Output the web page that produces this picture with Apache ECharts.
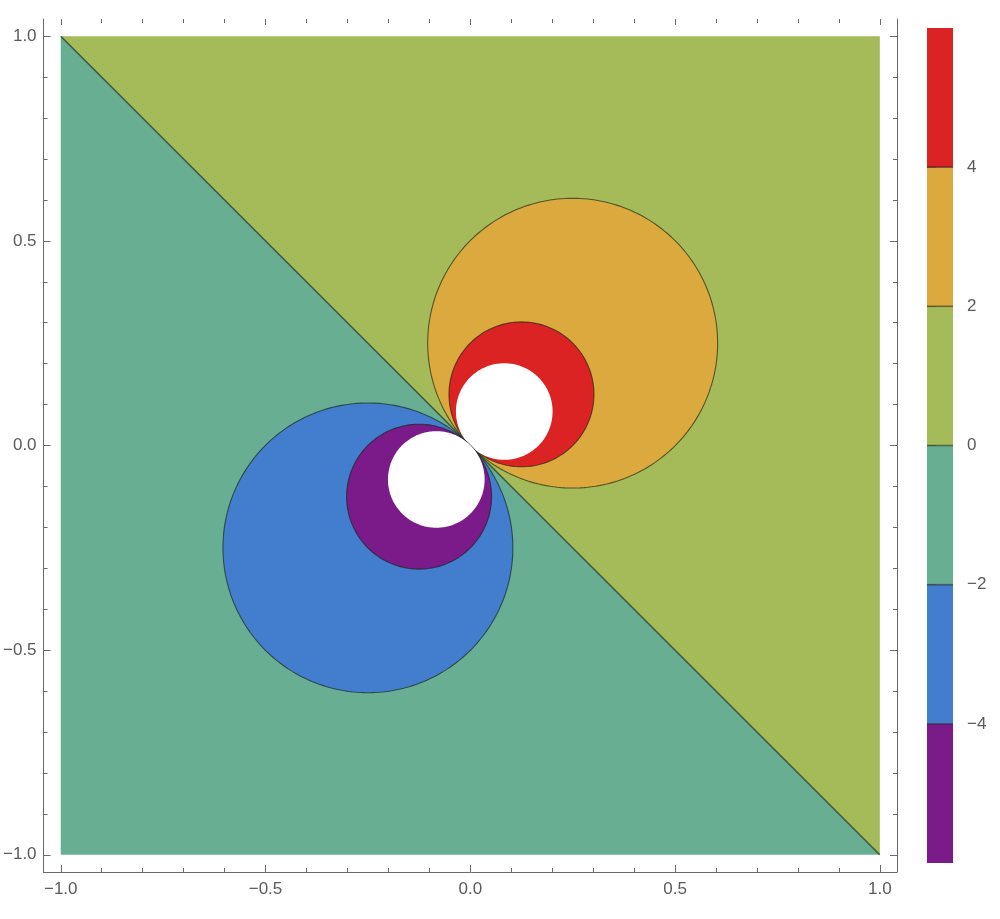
<!DOCTYPE html>
<html>
<head>
<meta charset="utf-8">
<style>
  html, body { margin: 0; padding: 0; background: #fff; }
  #chart { width: 1000px; height: 919px; }
</style>
</head>
<body>
<div id="chart"></div>
<script src="https://cdn.jsdelivr.net/npm/echarts@6/dist/echarts.min.js"></script>
<script>
// contour bands (edges + fill colours), as in the legend bar
var bandEdges = [-6, -4, -2, 0, 2, 4, 6];
var bandColors = ['#7b1a89', '#427dce', '#68ae93', '#a5bb59', '#dca93e', '#dc2323'];

// contour circles: level, centre (x = y), radius
var circleLevels = [2, 4, 6, -2, -4, -6];
var circleCentres = [0.25, 0.125, 0.083, -0.25, -0.125, -0.083];
var circleRadii = [0.354, 0.177, 0.118, 0.354, 0.177, 0.118];

// the zero contour splits the square along the diagonal
var halfLow = [[-1, -1], [-1, 1], [1, -1]];
var halfHigh = [[-1, 1], [1, 1], [1, -1]];

// ticks
var majorTicks = [-1, -0.5, 0, 0.5, 1];
var minorTicks = [-0.9, -0.8, -0.7, -0.6, -0.4, -0.3, -0.2, -0.1,
                  0.1, 0.2, 0.3, 0.4, 0.6, 0.7, 0.8, 0.9];
var barTicks = [-4, -2, 0, 2, 4];

var lineCol = 'rgba(20,35,20,0.65)';
var axisCol = '#6a6a6a';
var labelFont = { color: '#5a5a5a', fontSize: 17, fontFamily: 'Liberation Sans, Arial, sans-serif' };

function fmt(v) {
    var s = Math.abs(v).toFixed(1);
    return v < 0 ? '\u2212' + s : s;
}
function fmtInt(v) {
    return v < 0 ? '\u2212' + Math.abs(v) : String(v);
}

function bandColorFor(level) {
    if (Math.abs(level) >= 6) return '#ffffff';
    if (level > 0) return bandColors[bandEdges.indexOf(level)];
    return bandColors[bandEdges.indexOf(level) - 1];
}

var lim = 1.042;

function frameAxis(kind, pos, ticks, len, labels, line) {
    return {
        type: 'value', gridIndex: 0, position: pos,
        min: -lim, max: lim,
        axisLine: { show: line, onZero: false, lineStyle: { color: axisCol, width: 1 } },
        axisTick: { show: true, inside: true, length: len, customValues: ticks,
                    lineStyle: { color: axisCol, width: 1 } },
        axisLabel: labels ? Object.assign({ show: true, customValues: ticks, margin: kind === 'x' ? 9 : 7,
                    formatter: fmt }, labelFont) : { show: false },
        splitLine: { show: false }
    };
}

var chart = echarts.init(document.getElementById('chart'), null, { renderer: 'canvas' });

var option = {
    animation: false,
    backgroundColor: '#ffffff',
    grid: [
        { left: 43, right: 103, top: 19, bottom: 47 },
        { left: 927, width: 26, top: 28, height: 835 }
    ],
    xAxis: [
        frameAxis('x', 'bottom', majorTicks, 7, true, true),
        frameAxis('x', 'bottom', minorTicks, 4, false, false),
        frameAxis('x', 'top', majorTicks, 6, false, false),
        frameAxis('x', 'top', minorTicks, 4, false, false),
        { type: 'value', gridIndex: 1, min: 0, max: 1, show: false }
    ],
    yAxis: [
        frameAxis('y', 'left', majorTicks, 7, true, true),
        frameAxis('y', 'left', minorTicks, 4, false, false),
        frameAxis('y', 'right', majorTicks, 7, false, true),
        frameAxis('y', 'right', minorTicks, 4, false, false),
        {
            type: 'value', gridIndex: 1, position: 'right', min: -6, max: 6,
            axisLine: { show: true, lineStyle: { color: '#c4c4c4', width: 1 } },
            axisTick: { show: true, inside: false, length: 9, customValues: barTicks,
                        lineStyle: { color: axisCol, width: 1 } },
            axisLabel: Object.assign({ show: true, customValues: barTicks, margin: 14,
                        formatter: fmtInt }, labelFont),
            splitLine: { show: false }
        }
    ],
    series: [
        {
            // the two half planes either side of the zero contour
            type: 'custom', xAxisIndex: 0, yAxisIndex: 0, silent: true,
            data: [0, 1],
            renderItem: function (params, api) {
                var pts = (params.dataIndex === 0 ? halfLow : halfHigh).map(function (p) { return api.coord(p); });
                return {
                    type: 'polygon',
                    shape: { points: pts },
                    style: { fill: params.dataIndex === 0 ? bandColors[2] : bandColors[3] }
                };
            }
        },
        {
            // zero contour line
            type: 'custom', xAxisIndex: 0, yAxisIndex: 0, silent: true,
            data: [0],
            renderItem: function (params, api) {
                var a = api.coord([-1, 1]), b = api.coord([1, -1]);
                return {
                    type: 'line',
                    shape: { x1: a[0], y1: a[1], x2: b[0], y2: b[1] },
                    style: { stroke: lineCol, lineWidth: 1.6 }
                };
            }
        },
        {
            // closed contours (circles)
            type: 'custom', xAxisIndex: 0, yAxisIndex: 0, silent: true,
            data: circleLevels.map(function (lv, i) { return i; }),
            renderItem: function (params, api) {
                var i = params.dataIndex;
                var c = circleCentres[i], r = circleRadii[i], lv = circleLevels[i];
                var pts = [];
                for (var k = 0; k < 240; k++) {
                    var t = k / 240 * Math.PI * 2;
                    pts.push(api.coord([c + r * Math.cos(t), c + r * Math.sin(t)]));
                }
                var white = Math.abs(lv) >= 6;
                return {
                    type: 'polygon',
                    shape: { points: pts },
                    style: { fill: bandColorFor(lv), stroke: white ? null : lineCol, lineWidth: 1.1 }
                };
            }
        },
        {
            // legend bar
            type: 'custom', xAxisIndex: 4, yAxisIndex: 4, silent: true,
            data: bandColors.map(function (c, i) { return i; }),
            renderItem: function (params, api) {
                var i = params.dataIndex;
                var lo = bandEdges[i], hi = bandEdges[i + 1];
                var p0 = api.coord([0, hi]), p1 = api.coord([1, lo]);
                var children = [{
                    type: 'rect',
                    shape: { x: p0[0], y: p0[1], width: p1[0] - p0[0], height: p1[1] - p0[1] },
                    style: { fill: bandColors[i] }
                }];
                if (i > 0) {
                    children.push({
                        type: 'line',
                        shape: { x1: p0[0], y1: p1[1], x2: p1[0], y2: p1[1] },
                        style: { stroke: 'rgba(20,20,20,0.55)', lineWidth: 1.5 }
                    });
                }
                return { type: 'group', children: children };
            }
        }
    ]
};

chart.setOption(option);
window.addEventListener('resize', chart.resize);
</script>
</body>
</html>
